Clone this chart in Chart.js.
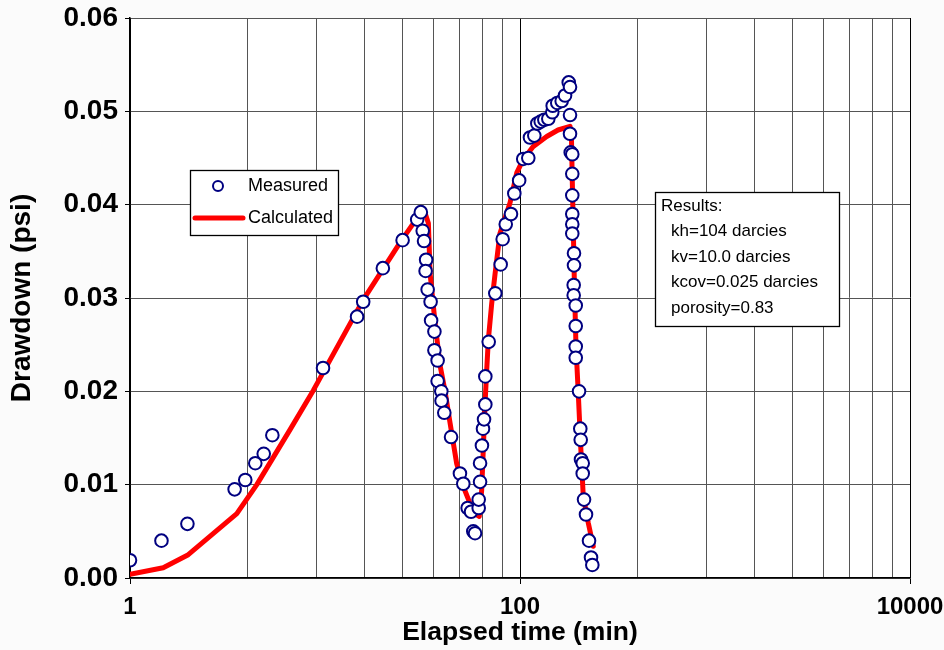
<!DOCTYPE html>
<html>
<head>
<meta charset="utf-8">
<script src="https://cdn.jsdelivr.net/npm/chart.js@4.4.1/dist/chart.umd.min.js"></script>
<style>
  html, body { margin: 0; padding: 0; background: #fbfbfb; }
  #wrap { width: 944px; height: 650px; position: relative; }
</style>
</head>
<body>
<div id="wrap"><canvas id="c" width="944" height="650"></canvas></div>
<script>
// ---- data ----
const measuredTime = [1, 1.45, 1.97, 3.44, 3.90, 4.39, 4.85, 5.37, 9.77, 14.6, 15.7, 19.8, 25.0, 29.7, 31.0, 31.7, 32.2, 33.0, 32.8, 33.6, 34.8, 35.0, 36.4, 36.4, 37.8, 37.8, 39.5, 39.6, 40.9, 44.3, 49.2, 51.2, 53.9, 56.1, 57.6, 58.8, 61.4, 61.4, 62.4, 62.4, 63.8, 64.6, 65.4, 66.4, 66.4, 69.1, 74.7, 79.6, 81.5, 84.5, 89.9, 93.5, 99.0, 103.9, 110.3, 112.5, 118.4, 122.7, 127.7, 133.3, 139.7, 146.4, 147.1, 155.3, 163.6, 170.2, 177.8, 180.5, 180.5, 180.5, 182, 185.4, 185.4, 185.4, 185.4, 185.4, 185.4, 189.2, 189.2, 188.5, 188.5, 193.1, 193.1, 193.1, 193.1, 200.8, 203.8, 204.8, 205.5, 209.7, 209.7, 213, 218, 225.9, 231.3, 234.9];
const measuredDrawdown = [0.0019, 0.0040, 0.0058, 0.0095, 0.0105, 0.0123, 0.0133, 0.0153, 0.0225, 0.0280, 0.0296, 0.0332, 0.0362, 0.0384, 0.0392, 0.0372, 0.0361, 0.0341, 0.0329, 0.0309, 0.0296, 0.0276, 0.0264, 0.0244, 0.0233, 0.0211, 0.0200, 0.0190, 0.0177, 0.0151, 0.0112, 0.0101, 0.0075, 0.0071, 0.0050, 0.0048, 0.0075, 0.0084, 0.0103, 0.0123, 0.0142, 0.0160, 0.0170, 0.0186, 0.0216, 0.0253, 0.0305, 0.0336, 0.0363, 0.0379, 0.0390, 0.0412, 0.0426, 0.0449, 0.0450, 0.0472, 0.0474, 0.0487, 0.0489, 0.0491, 0.0492, 0.0499, 0.0506, 0.0509, 0.0511, 0.0517, 0.0531, 0.0526, 0.0496, 0.0476, 0.0456, 0.0454, 0.0433, 0.0410, 0.0390, 0.0379, 0.0369, 0.0348, 0.0335, 0.0314, 0.0303, 0.0292, 0.0270, 0.0248, 0.0236, 0.0200, 0.0160, 0.0148, 0.0127, 0.0123, 0.0112, 0.0084, 0.0068, 0.0040, 0.0022, 0.0014];
const calcTime = [1, 1.48, 1.99, 3.53, 4.47, 6.62, 8.71, 15.7, 24.2, 29.5, 32.6, 33.9, 34.6, 36.7, 38.9, 41.2, 43.8, 47.3, 51.2, 55.4, 58.8, 61.8, 63.6, 64.8, 66.2, 67.5, 68.8, 71.6, 74.5, 78.9, 88.9, 96.2, 103.6, 116.6, 137.1, 156.7, 180.5, 183.7, 185.4, 187.7, 189.9, 193.7, 199, 204.8, 211.2, 224, 237.6];
const calcDrawdown = [0.0004, 0.0011, 0.0025, 0.0069, 0.0100, 0.0159, 0.0201, 0.0298, 0.0359, 0.0385, 0.0391, 0.0380, 0.0326, 0.0273, 0.0228, 0.0201, 0.0166, 0.0123, 0.0098, 0.0080, 0.0069, 0.0066, 0.0094, 0.0137, 0.0187, 0.0223, 0.0255, 0.0294, 0.0326, 0.0369, 0.0402, 0.0434, 0.0448, 0.0462, 0.0473, 0.0480, 0.0484, 0.0469, 0.0426, 0.0373, 0.0319, 0.0248, 0.0198, 0.0141, 0.0087, 0.0059, 0.0034];
const xGridValues = [1, 4, 9, 16, 25, 36, 49, 64, 81, 100, 400, 900, 1600, 2500, 3600, 4900, 6400, 8100, 10000];
const xTickLabels = ['1', '100', '10000'];
const yTickValues = [0, 0.01, 0.02, 0.03, 0.04, 0.05, 0.06];
const seriesNames = ['Measured', 'Calculated'];
const resultsLines = ['Results:', 'kh=104 darcies', 'kv=10.0 darcies', 'kcov=0.025 darcies', 'porosity=0.83'];

const FONT = '"Liberation Sans", Arial, sans-serif';

const boxesPlugin = {
  id: 'boxes',
  beforeDraw(chart) {
    const {ctx, chartArea: a} = chart;
    ctx.save();
    ctx.fillStyle = '#ffffff';
    ctx.fillRect(a.left, a.top, a.right - a.left, a.bottom - a.top);
    ctx.restore();
  },
  afterDraw(chart) {
    const {ctx, chartArea: a} = chart;
    ctx.save();
    // Legend box
    const lx = a.left + 60, ly = a.top + 152, lw = 148, lh = 65;
    ctx.fillStyle = '#ffffff';
    ctx.fillRect(lx, ly, lw, lh);
    ctx.strokeStyle = '#000000';
    ctx.lineWidth = 1.3;
    ctx.strokeRect(lx + 0.5, ly + 0.5, lw, lh);
    ctx.beginPath();
    ctx.arc(lx + 28, ly + 16, 5, 0, Math.PI * 2);
    ctx.lineWidth = 2;
    ctx.strokeStyle = '#000080';
    ctx.fillStyle = '#ffffff';
    ctx.fill(); ctx.stroke();
    ctx.beginPath();
    ctx.moveTo(lx + 5, ly + 48); ctx.lineTo(lx + 53, ly + 48);
    ctx.strokeStyle = '#ff0000'; ctx.lineWidth = 5; ctx.lineCap = 'round';
    ctx.stroke();
    ctx.fillStyle = '#000000';
    ctx.font = '18px ' + FONT;
    ctx.textBaseline = 'middle';
    ctx.textAlign = 'left';
    ctx.fillText(seriesNames[0], lx + 58, ly + 16);
    ctx.fillText(seriesNames[1], lx + 58, ly + 48);
    // Results box
    const rx = 655, ry = 192, rw = 184, rh = 134;
    ctx.fillStyle = '#ffffff';
    ctx.fillRect(rx, ry, rw, rh);
    ctx.strokeStyle = '#000000'; ctx.lineWidth = 1.3;
    ctx.strokeRect(rx + 0.5, ry + 0.5, rw, rh);
    ctx.fillStyle = '#000000';
    ctx.font = '17px ' + FONT;
    resultsLines.forEach((t, i) => {
      ctx.fillText(t, rx + (i === 0 ? 6 : 16), ry + 14 + i * 25.5);
    });
    ctx.restore();
  }
};

new Chart(document.getElementById('c'), {
  type: 'scatter',
  data: {
    datasets: [
      {
        label: seriesNames[0],
        data: measuredTime.map((t, i) => ({x: t, y: measuredDrawdown[i]})),
        showLine: false,
        pointRadius: 6.3,
        pointBorderWidth: 2,
        pointBorderColor: '#000080',
        pointBackgroundColor: '#ffffff',
        order: 0
      },
      {
        label: seriesNames[1],
        data: calcTime.map((t, i) => ({x: t, y: calcDrawdown[i]})),
        showLine: true,
        borderColor: '#ff0000',
        borderWidth: 5,
        pointRadius: 0,
        tension: 0,
        borderJoinStyle: 'round',
        borderCapStyle: 'round',
        order: 1
      }
    ]
  },
  options: {
    responsive: false,
    animation: false,
    layout: { padding: { top: 18, right: 34, left: 0, bottom: 0 } },
    plugins: { legend: { display: false }, tooltip: { enabled: false } },
    scales: {
      x: {
        type: 'logarithmic',
        min: 1, max: 10000,
        afterBuildTicks: (s) => { s.ticks = xGridValues.map(v => ({value: v})); },
        afterFit: (s) => { s.height = 72; s.paddingRight = 0; s.paddingLeft = 0; },
        ticks: {
          autoSkip: false, maxRotation: 0, minRotation: 0,
          padding: 9,
          color: '#000',
          font: { family: FONT, size: 24, weight: 'bold' },
          callback: (v) => xTickLabels.includes(String(v)) ? String(v) : ''
        },
        grid: {
          color: (c) => (c.tick && xTickLabels.includes(String(c.tick.value))) ? '#000' : '#555',
          tickColor: (c) => (c.tick && xTickLabels.includes(String(c.tick.value))) ? '#000' : 'rgba(0,0,0,0)',
          tickLength: 6,
          lineWidth: 1
        },
        border: { color: '#000', width: 1.5 },
        title: {
          display: true, text: 'Elapsed time (min)', color: '#000',
          font: { family: FONT, size: 26.5, weight: 'bold', lineHeight: 1 },
          padding: { top: 0, bottom: 4 }
        }
      },
      y: {
        min: 0, max: 0.06,
        afterBuildTicks: (s) => { s.ticks = yTickValues.map(v => ({value: v})); },
        afterFit: (s) => { s.width = 130; s.paddingTop = 0; s.paddingBottom = 0; },
        ticks: {
          padding: 7,
          color: '#000',
          font: { family: FONT, size: 28, weight: 'bold' },
          callback: (v) => Number(v).toFixed(2)
        },
        grid: { color: '#555', tickColor: '#000', tickLength: 5, lineWidth: 1 },
        border: { color: '#000', width: 1.5 },
        title: {
          display: true, text: 'Drawdown (psi)', color: '#000',
          font: { family: FONT, size: 28, weight: 'bold', lineHeight: 1 },
          padding: { top: 8, bottom: 0 }
        }
      }
    }
  },
  plugins: [boxesPlugin]
});
</script>
</body>
</html>
